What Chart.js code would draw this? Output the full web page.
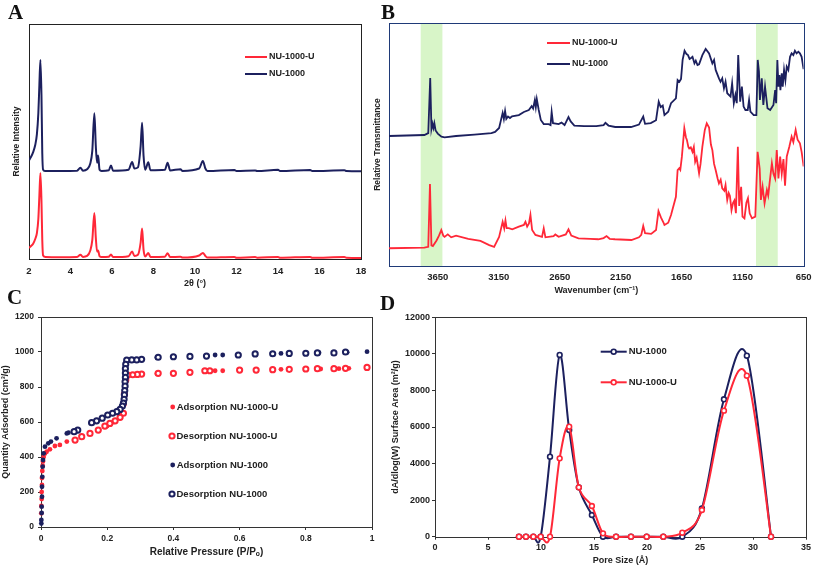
<!DOCTYPE html>
<html>
<head>
<meta charset="utf-8">
<script src="https://cdn.jsdelivr.net/npm/chart.js@4.4.0/dist/chart.umd.min.js"></script>
<style>
  body { margin: 0; background: #fff; }
  #wrap { position: relative; width: 817px; height: 568px; overflow: hidden; background: #fff; }
  canvas { position: absolute; }
  .letra { position: absolute; font-family: "Liberation Serif", "DejaVu Serif", serif; font-weight: bold; font-size: 21px; line-height: 21px; color: #111; }
</style>
</head>
<body>
<div id="wrap">
  <canvas id="grafA" width="400" height="290" style="left:0;top:0"></canvas>
  <canvas id="grafB" width="447" height="300" style="left:370px;top:0"></canvas>
  <canvas id="grafC" width="400" height="278" style="left:0;top:290px"></canvas>
  <canvas id="grafD" width="432" height="278" style="left:385px;top:290px"></canvas>
  <div class="letra" style="left:8px;top:2px">A</div>
  <div class="letra" style="left:381px;top:2px">B</div>
  <div class="letra" style="left:7px;top:287px">C</div>
  <div class="letra" style="left:380px;top:293px">D</div>
</div>
<script>
// ---- A: PXRD ----
const xrdAngulo = [2.0, 2.1, 2.2, 2.3, 2.38, 2.45, 2.5, 2.55, 2.6, 2.64, 2.68, 2.8, 3.5, 4.3, 4.48, 4.6, 4.8, 4.95, 5.05, 5.15, 5.22, 5.28, 5.33, 5.4, 5.5, 5.85, 5.95, 6.05, 6.8, 6.97, 7.08, 7.25, 7.38, 7.45, 7.52, 7.6, 7.75, 7.85, 8.55, 8.68, 8.8, 9.3, 9.4, 10.2, 10.38, 10.5, 10.6, 11.9, 12.0, 12.9, 13.0, 14.0, 14.1, 15.55, 15.65, 17.2, 17.3, 18.0];
const xrdNU1000 = [42.0, 43.5, 45.5, 48.5, 53, 62, 74, 84.7, 70, 45, 38, 37.4, 37.4, 37.5, 38.8, 37.6, 38.2, 40.5, 46, 62, 48, 41, 44, 38, 37.5, 37.8, 39.8, 37.6, 38.0, 41.3, 38.5, 39, 48, 58, 44, 38, 41.2, 37.8, 38, 41, 37.7, 38.2, 37.5, 38.5, 41.7, 38.5, 37.4, 37.9, 37.4, 37.7, 37.4, 38.0, 37.4, 37.9, 37.4, 37.8, 37.4, 37.3];
const xrdNU1000U = [4.7, 5.5, 6.5, 8.5, 11, 17, 27, 36.6, 25, 8, 1.5, 0.8, 0.7, 0.8, 1.8, 0.9, 1.3, 3.5, 8, 19.6, 9, 3.2, 3.6, 1.2, 0.8, 1.0, 1.9, 0.8, 1.2, 3.2, 1.3, 1.8, 7, 13, 4, 1.1, 2.6, 0.9, 1, 2.5, 0.8, 1.0, 0.6, 1.5, 2.6, 1.3, 0.6, 0.9, 0.5, 0.8, 0.5, 0.9, 0.5, 0.9, 0.5, 0.8, 0.5, 0.4];
const ticksA = [2, 4, 6, 8, 10, 12, 14, 16, 18];

// ---- B: IR ----
const irWnNU1000 = [4050, 3760, 3728, 3712, 3702, 3694, 3686, 3678, 3668, 3650, 3620, 3594, 3500, 3350, 3210, 3180, 3147, 3118, 3108, 3098, 3088, 3074, 3058, 3041, 2985, 2944, 2903, 2880, 2868, 2854, 2846, 2838, 2822, 2805, 2781, 2740, 2725, 2716, 2705, 2659, 2635, 2610, 2578, 2560, 2530, 2450, 2350, 2290, 2275, 2250, 2195, 2065, 2000, 1965, 1950, 1903, 1860, 1838, 1822, 1805, 1791, 1760, 1737, 1697, 1683, 1669, 1655, 1642, 1626, 1610, 1598, 1585, 1575, 1561, 1545, 1534, 1520, 1507, 1480, 1453, 1425, 1398, 1384, 1371, 1344, 1331, 1317, 1303, 1290, 1276, 1249, 1236, 1222, 1209, 1198, 1186, 1170, 1156, 1142, 1127, 1108, 1097, 1086, 1059, 1037, 1026, 1016, 1008, 993, 980, 966, 946, 924, 897, 883, 875, 865, 856, 848, 840, 829, 821, 810, 799, 788, 775, 761, 748, 734, 721, 707, 693, 680, 666, 653, 650];
const irNU1000 = [53.5, 53.9, 54.7, 77.4, 56.5, 58.6, 56.8, 58.8, 55.8, 54.5, 53.2, 52.9, 53.5, 54.1, 54.7, 55.2, 56.8, 63, 60.5, 63.8, 60.5, 61.5, 60.9, 61.6, 62.1, 63.4, 64.2, 65.8, 64.8, 68.3, 65.4, 68.7, 64.2, 60.1, 58.4, 58.4, 58, 63.4, 58.8, 58.4, 59, 58, 61.3, 59.5, 57.8, 57.6, 57.6, 58, 58.9, 57.8, 57.2, 57.2, 58.2, 61.5, 58.5, 58.8, 60, 67.6, 65.4, 66, 62.1, 63.5, 67, 69, 76.5, 75.8, 77, 84.8, 88.6, 87.2, 86.8, 85.2, 85.5, 86.1, 83.4, 84.5, 82.7, 83, 86.8, 89.3, 87.5, 83.4, 84.8, 80.7, 77.2, 75.8, 77.2, 73.1, 75.8, 71.1, 69.7, 75.2, 67, 70.4, 67, 86.8, 67.6, 73.8, 65.6, 64.2, 64.2, 68.3, 63.5, 62.1, 62.1, 84.8, 80, 68.3, 77.2, 66.3, 73.8, 64.9, 64.2, 66.3, 72.4, 67, 84.8, 73.8, 78.6, 72.4, 79.3, 73.8, 80.7, 76.5, 82, 80.7, 86.1, 87.5, 86.8, 88.6, 87.5, 88.2, 87.5, 86.1, 82, 81];
const irWnNU1000U = [4050, 3760, 3728, 3714, 3702, 3690, 3660, 3640, 3621, 3605, 3594, 3568, 3540, 3500, 3400, 3300, 3228, 3188, 3147, 3118, 3105, 3095, 3085, 3068, 3039, 2985, 2944, 2931, 2917, 2902, 2890, 2876, 2849, 2795, 2781, 2767, 2700, 2686, 2659, 2600, 2578, 2555, 2496, 2400, 2334, 2290, 2266, 2240, 2197, 2062, 2000, 1981, 1965, 1950, 1900, 1860, 1840, 1820, 1800, 1791, 1760, 1737, 1697, 1683, 1670, 1661, 1648, 1628, 1615, 1607, 1595, 1588, 1575, 1561, 1550, 1539, 1527, 1507, 1495, 1480, 1460, 1444, 1425, 1410, 1398, 1384, 1371, 1355, 1344, 1330, 1317, 1300, 1290, 1276, 1264, 1254, 1241, 1228, 1217, 1205, 1189, 1178, 1162, 1151, 1135, 1119, 1106, 1092, 1073, 1046, 1027, 1010, 1000, 986, 970, 951, 940, 929, 910, 897, 883, 870, 856, 842, 829, 815, 802, 788, 767, 748, 734, 715, 699, 680, 666, 653, 650];
const irNU1000U = [7.3, 7.6, 7.9, 33.7, 8.5, 8.2, 10.5, 12.5, 14.8, 12.5, 12, 13, 11.8, 12.5, 11.2, 10.3, 8.6, 7.9, 12, 18.2, 15.5, 18.8, 15.6, 15.6, 15.1, 16.2, 16.9, 18.2, 16.2, 17.5, 21, 14.8, 12.8, 12, 15.5, 11.8, 12.3, 13, 12, 13, 15.1, 12.5, 11.4, 11.2, 11, 11.5, 12.3, 11.2, 11, 10.7, 11.8, 12.8, 16.5, 13.5, 13.2, 14.8, 22.6, 20, 18, 16.9, 17.8, 21, 28.5, 39.5, 40.2, 39.5, 45, 56.7, 53, 51.9, 49, 48.4, 48.8, 47, 49, 42.9, 44.6, 38.1, 42, 49.1, 56, 58.7, 57, 50, 47.7, 42, 39.5, 36, 34, 35.5, 32, 31, 33.3, 27.2, 30, 28.8, 23, 26, 27, 21.7, 49.1, 24.7, 32.6, 20.3, 19.6, 26, 27.9, 21.7, 19.6, 20.3, 47, 40, 27.2, 32.6, 25.8, 31.3, 29, 34, 42.3, 38, 36, 47.7, 36, 45, 38, 44, 33, 45, 49.1, 53.2, 51, 56, 52, 50.5, 47, 42.3, 41];
const irBandas = [[3790, 3612], [1040, 862]];
const ticksB = [3650, 3150, 2650, 2150, 1650, 1150, 650];

// ---- C: isotermas ----
const adsUx = [0.001, 0.001, 0.002, 0.002, 0.003, 0.003, 0.004, 0.005, 0.006, 0.008, 0.012, 0.017, 0.027, 0.042, 0.057, 0.078, 0.10, 0.125, 0.15, 0.175, 0.2, 0.22, 0.24, 0.25, 0.252, 0.254, 0.256, 0.258, 0.26, 0.265, 0.28, 0.30, 0.35, 0.40, 0.45, 0.526, 0.549, 0.725, 0.845, 0.90, 0.93];
const adsUy = [78, 120, 160, 200, 240, 280, 320, 350, 375, 400, 420, 430, 444, 463, 469, 488, 497, 516, 535, 554, 577, 600, 627, 650, 700, 750, 800, 840, 860, 866, 870, 872, 876, 878, 884, 893, 893, 901, 903, 905, 907];
const desUx = [0.985, 0.92, 0.885, 0.835, 0.80, 0.75, 0.70, 0.65, 0.60, 0.51, 0.495, 0.45, 0.40, 0.354, 0.304, 0.291, 0.277, 0.262, 0.256, 0.252, 0.249, 0.239, 0.224, 0.208, 0.193, 0.173, 0.148, 0.123, 0.103];
const desUy = [912, 907, 905, 905, 903, 901, 899, 897, 897, 893, 893, 884, 878, 878, 874, 872, 870, 868, 840, 760, 650, 627, 607, 592, 577, 554, 535, 516, 497];
const adsNx = [0.001, 0.001, 0.002, 0.002, 0.003, 0.003, 0.004, 0.005, 0.006, 0.008, 0.012, 0.022, 0.03, 0.047, 0.078, 0.083, 0.11, 0.15, 0.2, 0.23, 0.245, 0.25, 0.252, 0.254, 0.256, 0.26, 0.30, 0.35, 0.40, 0.45, 0.526, 0.549, 0.725, 0.84, 0.925, 0.985];
const adsNy = [20, 40, 80, 116, 173, 230, 287, 345, 383, 421, 459, 478, 488, 507, 535, 539, 552, 594, 638, 660, 690, 760, 850, 920, 945, 952, 958, 968, 972, 975, 983, 983, 992, 996, 998, 1002];
const desNx = [0.92, 0.885, 0.835, 0.80, 0.75, 0.70, 0.647, 0.596, 0.50, 0.45, 0.40, 0.354, 0.304, 0.289, 0.274, 0.259, 0.256, 0.255, 0.255, 0.255, 0.254, 0.254, 0.253, 0.252, 0.251, 0.249, 0.246, 0.239, 0.229, 0.216, 0.2015, 0.185, 0.168, 0.153, 0.111, 0.10];
const desNy = [1000, 995, 995, 993, 992, 990, 989, 983, 977, 975, 973, 970, 958, 955, 955, 954, 930, 905, 880, 855, 830, 805, 780, 755, 730, 708, 691, 672, 659, 650, 640, 622, 607, 596, 554, 545];
const ticksCx = [0, 0.2, 0.4, 0.6, 0.8, 1];
const ticksCy = [0, 200, 400, 600, 800, 1000, 1200];

// ---- D: distribucion de poro ----
const tamPoro = [7.92, 8.58, 9.28, 9.97, 10.85, 11.76, 12.66, 13.57, 14.8, 15.85, 17.08, 18.49, 19.97, 21.54, 23.33, 25.18, 27.26, 29.42, 31.7];
const poroNU1000 = [0, 0, 0, 0, 4378, 9941, 5837, 2700, 1186, 0, 0, 0, 0, 0, 0, 1550, 7515, 9900, 0];
const poroNU1000U = [0, 0, 0, 0, 0, 4286, 6019, 2700, 1678, 182, 0, 0, 0, 0, 219, 1460, 6893, 8807, 0];
const ticksDx = [0, 5, 10, 15, 20, 25, 30, 35];
const ticksDy = [0, 2000, 4000, 6000, 8000, 10000, 12000];

const rojo = "#ff2838";
const azul = "#1c205e";
const verde = "#d8f5c8";
const fuente = '"Liberation Sans", Arial, sans-serif';
Chart.defaults.font.family = fuente;
Chart.defaults.font.weight = "bold";
Chart.defaults.color = "#222";

function puntos(xs, ys) {
  return xs.map((x, i) => ({ x: x, y: ys[i] }));
}

function fijarTicks(lista) {
  return (s) => { s.ticks = lista.map((v) => ({ value: v })); };
}

// marco alrededor del area de trazado
const marco = {
  id: "marco",
  beforeDatasetsDraw(chart, args, opts) {
    const a = chart.chartArea;
    const ctx = chart.ctx;
    ctx.save();
    ctx.strokeStyle = opts.color || "#222";
    ctx.lineWidth = opts.width || 1;
    const l = Math.round(a.left) + 0.5, t = Math.round(a.top) + 0.5;
    ctx.strokeRect(l, t, Math.round(a.right) - Math.round(a.left), Math.round(a.bottom) - Math.round(a.top));
    ctx.restore();
  }
};

// franjas verdes del panel B
const bandas = {
  id: "bandas",
  beforeDatasetsDraw(chart, args, opts) {
    if (!opts.lista) return;
    const a = chart.chartArea;
    const ctx = chart.ctx;
    const xs = chart.scales.x;
    ctx.save();
    ctx.fillStyle = opts.color;
    opts.lista.forEach((b) => {
      const x1 = xs.getPixelForValue(b[0]);
      const x2 = xs.getPixelForValue(b[1]);
      ctx.fillRect(Math.min(x1, x2), a.top + 1, Math.abs(x2 - x1), a.bottom - a.top - 1);
    });
    ctx.restore();
  }
};

// suavizado tipo Excel: puntos de control a 1/6 de la cuerda entre vecinos
const suaveExcel = {
  id: "suaveExcel",
  beforeDatasetDraw(chart, args) {
    const meta = args.meta;
    const pts = meta.data;
    if (!meta.dataset || pts.length < 2) return;
    for (let i = 0; i < pts.length; i++) {
      const p = pts[i];
      const prev = pts[Math.max(i - 1, 0)];
      const next = pts[Math.min(i + 1, pts.length - 1)];
      const dx = (next.x - prev.x) / 6;
      const dy = (next.y - prev.y) / 6;
      p.cp1x = p.x - dx; p.cp1y = p.y - dy;
      p.cp2x = p.x + dx; p.cp2y = p.y + dy;
    }
    meta.dataset._pointsUpdated = true;
  }
};

// leyendas dibujadas a mano dentro del grafico
const leyenda = {
  id: "leyenda",
  afterDatasetsDraw(chart, args, opts) {
    if (!opts.items) return;
    const ctx = chart.ctx;
    ctx.save();
    ctx.font = "bold " + (opts.size || 9.5) + "px " + fuente;
    ctx.textBaseline = "middle";
    opts.items.forEach((it) => {
      let xt = it.x;
      if (it.tipo === "linea" || it.tipo === "lineaAro") {
        ctx.strokeStyle = it.color;
        ctx.lineWidth = 2;
        ctx.beginPath();
        ctx.moveTo(it.x, it.y);
        ctx.lineTo(it.x + opts.largo, it.y);
        ctx.stroke();
        if (it.tipo === "lineaAro") {
          ctx.beginPath();
          ctx.arc(it.x + opts.largo / 2, it.y, 2.4, 0, Math.PI * 2);
          ctx.fillStyle = "#fff";
          ctx.fill();
          ctx.lineWidth = 1.6;
          ctx.stroke();
        }
        xt = it.x + opts.largo + 2;
      } else if (it.tipo === "punto") {
        ctx.beginPath();
        ctx.arc(it.x, it.y, 2.4, 0, Math.PI * 2);
        ctx.fillStyle = it.color;
        ctx.fill();
        xt = it.x + 4;
      } else if (it.tipo === "aro") {
        ctx.beginPath();
        ctx.arc(it.x, it.y, 2.6, 0, Math.PI * 2);
        ctx.fillStyle = "#fff";
        ctx.fill();
        ctx.strokeStyle = it.color;
        ctx.lineWidth = 2;
        ctx.stroke();
        xt = it.x + 4.5;
      }
      ctx.fillStyle = "#222";
      ctx.fillText(it.texto, xt, it.y);
    });
    ctx.restore();
  }
};

function ejeX(min, max, lista, titulo, o) {
  return {
    type: "linear", min: min, max: max, reverse: !!o.reverse,
    afterBuildTicks: fijarTicks(lista),
    ticks: { padding: o.tp, font: { size: o.ts }, color: "#222", maxRotation: 0, autoSkip: false, callback: (v) => String(v) },
    grid: o.marcas ? { drawOnChartArea: false, drawTicks: true, tickLength: 3, color: "#333" } : { display: false, drawTicks: false },
    border: { display: false },
    title: { display: true, text: titulo, font: { size: o.fs }, color: "#222", padding: { top: 0, bottom: o.pb } },
    afterFit: (s) => { s.height = o.alto; }
  };
}

function ejeY(min, max, lista, titulo, o) {
  const eje = {
    min: min, max: max,
    grid: o.marcas ? { drawOnChartArea: false, drawTicks: true, tickLength: 3, color: "#333" } : { display: false, drawTicks: false },
    border: { display: false },
    title: { display: true, text: titulo, font: { size: o.fs }, color: "#222", padding: { top: o.pt, bottom: 0 } },
    afterFit: (s) => { s.width = o.ancho; }
  };
  if (lista) {
    eje.afterBuildTicks = fijarTicks(lista);
    eje.ticks = { padding: o.tp, font: { size: o.ts }, color: "#222", callback: (v) => String(v) };
  } else {
    eje.ticks = { display: false };
  }
  return eje;
}

const base = { responsive: false, animation: false, devicePixelRatio: 1 };

// Panel A
new Chart(document.getElementById("grafA"), {
  type: "line",
  data: {
    datasets: [
      { data: puntos(xrdAngulo, xrdNU1000U), borderColor: rojo, borderWidth: 2, pointRadius: 0, cubicInterpolationMode: "monotone" },
      { data: puntos(xrdAngulo, xrdNU1000), borderColor: azul, borderWidth: 2, pointRadius: 0, cubicInterpolationMode: "monotone" }
    ]
  },
  options: Object.assign({}, base, {
    layout: { padding: { left: 0, top: 24, right: 39, bottom: 0 } },
    plugins: {
      legend: { display: false }, tooltip: { enabled: false },
      marco: { color: "#222" },
      leyenda: { largo: 22, size: 9, items: [
        { texto: "NU-1000-U", color: rojo, tipo: "linea", x: 245, y: 57 },
        { texto: "NU-1000", color: azul, tipo: "linea", x: 245, y: 74 }
      ] }
    },
    scales: {
      x: ejeX(2, 18, ticksA, "2θ (°)", { tp: 7, ts: 9.5, fs: 9, pb: 1, alto: 31 }),
      y: ejeY(0, 100, null, "Relative Intensity", { fs: 8.5, pt: 12, ancho: 29 })
    }
  }),
  plugins: [marco, leyenda]
});

// Panel B
new Chart(document.getElementById("grafB"), {
  type: "line",
  data: {
    datasets: [
      { data: puntos(irWnNU1000U, irNU1000U), borderColor: rojo, borderWidth: 1.8, pointRadius: 0, tension: 0 },
      { data: puntos(irWnNU1000, irNU1000), borderColor: azul, borderWidth: 1.8, pointRadius: 0, tension: 0 }
    ]
  },
  options: Object.assign({}, base, {
    layout: { padding: { left: 0, top: 23, right: 10, bottom: 0 } },
    plugins: {
      legend: { display: false }, tooltip: { enabled: false },
      marco: { color: "#1f3a78" },
      bandas: { lista: irBandas, color: verde },
      leyenda: { largo: 23, size: 9, items: [
        { texto: "NU-1000-U", color: rojo, tipo: "linea", x: 177, y: 43 },
        { texto: "NU-1000", color: azul, tipo: "linea", x: 177, y: 64 }
      ] }
    },
    scales: {
      x: ejeX(650, 4050, ticksB, "Wavenumber (cm⁻¹)", { reverse: true, tp: 5.5, ts: 9.5, fs: 9, pb: 3.6, alto: 34 }),
      y: ejeY(0, 100, null, "Relative Transmittance", { fs: 8.5, pt: 2.6, ancho: 19 })
    }
  }),
  plugins: [bandas, marco, leyenda]
});

// Panel C
const aro = { pointRadius: 2.6, pointBorderWidth: 2, pointBackgroundColor: "#fff", showLine: false, clip: false };
const punto = { pointRadius: 2.4, pointBorderWidth: 0, showLine: false, clip: false };
new Chart(document.getElementById("grafC"), {
  type: "scatter",
  data: {
    datasets: [
      Object.assign({ data: puntos(desNx, desNy), pointBorderColor: azul }, aro),
      Object.assign({ data: puntos(adsNx, adsNy), pointBackgroundColor: azul }, punto),
      Object.assign({ data: puntos(desUx, desUy), pointBorderColor: rojo }, aro),
      Object.assign({ data: puntos(adsUx, adsUy), pointBackgroundColor: rojo }, punto)
    ]
  },
  options: Object.assign({}, base, {
    layout: { padding: { left: 0, top: 27, right: 28, bottom: 0 } },
    plugins: {
      legend: { display: false }, tooltip: { enabled: false },
      marco: { color: "#333" },
      leyenda: { size: 9.5, items: [
        { texto: "Adsorption NU-1000-U", color: rojo, tipo: "punto", x: 172.7, y: 117 },
        { texto: "Desorption NU-1000-U", color: rojo, tipo: "aro", x: 172, y: 146 },
        { texto: "Adsorption NU-1000", color: azul, tipo: "punto", x: 172.7, y: 175 },
        { texto: "Desorption NU-1000", color: azul, tipo: "aro", x: 172, y: 204 }
      ] }
    },
    scales: {
      x: ejeX(0, 1, ticksCx, "Relative Pressure (P/Pₒ)", { tp: 3.2, ts: 8.5, fs: 10, pb: 9.7, alto: 41, marcas: true }),
      y: ejeY(0, 1200, ticksCy, "Quantity Adsorbed (cm³/g)", { tp: 4, ts: 8.5, fs: 9, pt: 0.6, ancho: 41, marcas: true })
    }
  }),
  plugins: [marco, leyenda]
});

// Panel D
const estiloD = { borderWidth: 2, pointRadius: 2.4, pointBorderWidth: 1.6, pointBackgroundColor: "#fff", tension: 0.4, clip: false };
new Chart(document.getElementById("grafD"), {
  type: "line",
  data: {
    datasets: [
      Object.assign({ data: puntos(tamPoro, poroNU1000U), borderColor: rojo, pointBorderColor: rojo }, estiloD),
      Object.assign({ data: puntos(tamPoro, poroNU1000), borderColor: azul, pointBorderColor: azul }, estiloD)
    ]
  },
  options: Object.assign({}, base, {
    layout: { padding: { left: 0, top: 27.3, right: 11, bottom: 0 } },
    plugins: {
      legend: { display: false }, tooltip: { enabled: false },
      marco: { color: "#333" },
      leyenda: { largo: 26, size: 9.5, items: [
        { texto: "NU-1000", color: azul, tipo: "lineaAro", x: 215.7, y: 61.7 },
        { texto: "NU-1000-U", color: rojo, tipo: "lineaAro", x: 215.7, y: 92.3 }
      ] }
    },
    scales: {
      x: ejeX(0, 35, ticksDx, "Pore Size (Å)", { tp: 2.6, ts: 9, fs: 9, pb: 1.6, alto: 31.3, marcas: true }),
      y: ejeY(0, 12000, ticksDy, "dA/dlog(W) Surface Area (m²/g)", { tp: 2, ts: 9, fs: 9, pt: 5.6, ancho: 50, marcas: true })
    }
  }),
  plugins: [marco, suaveExcel, leyenda]
});
</script>
</body>
</html>
